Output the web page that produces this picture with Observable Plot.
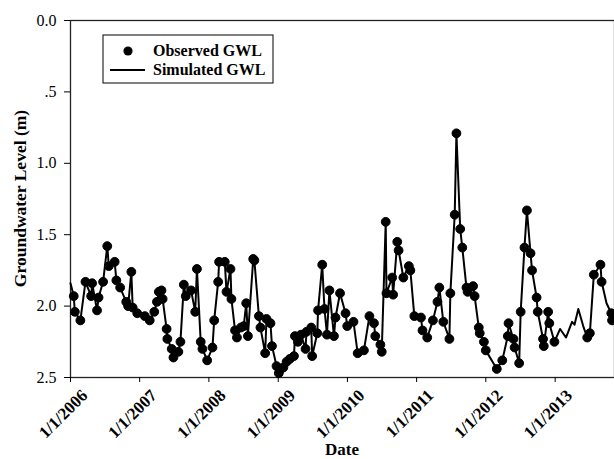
<!DOCTYPE html>
<html>
<head>
<meta charset="utf-8">
<script src="https://cdn.jsdelivr.net/npm/d3@7"></script>
<script src="https://cdn.jsdelivr.net/npm/@observablehq/plot@0.6"></script>
<style>
  html, body { margin: 0; padding: 0; background: #fff; }
  #chart svg { display: block; }
  #chart [aria-label="y-axis tick label"] text { font-size: 16px; }
  #chart [aria-label="x-axis tick label"] text { font-size: 17px; font-weight: bold; }
</style>
</head>
<body>
<div id="chart"></div>
<script>
// Observed groundwater level (m below surface) at each field measurement
const obsDates = [
  "2006-01-18","2006-01-24","2006-02-22","2006-03-21","2006-04-20","2006-04-25","2006-05-21","2006-05-29",
  "2006-06-22","2006-07-14","2006-07-22","2006-08-22","2006-08-31","2006-09-20","2006-10-22","2006-11-01",
  "2006-11-18","2006-11-25","2006-12-19","2007-01-28","2007-02-23","2007-03-19","2007-04-02","2007-04-12",
  "2007-04-26","2007-05-02","2007-05-23","2007-05-27","2007-06-19","2007-06-28","2007-07-24","2007-08-04",
  "2007-08-22","2007-09-01","2007-09-29","2007-10-21","2007-10-30","2007-11-19","2007-11-28","2007-12-23",
  "2008-01-20","2008-01-29","2008-02-19","2008-02-24","2008-03-25","2008-04-03","2008-04-24","2008-04-29",
  "2008-05-18","2008-05-28","2008-06-18","2008-07-03","2008-07-16","2008-07-25","2008-08-22","2008-08-28",
  "2008-09-21","2008-09-29","2008-10-24","2008-10-31","2008-11-21","2008-11-29","2008-12-23","2009-01-04",
  "2009-01-14","2009-01-28","2009-02-14","2009-03-03","2009-03-25","2009-03-30","2009-04-15","2009-05-01",
  "2009-05-25","2009-05-30","2009-06-24","2009-06-29","2009-07-26","2009-07-30","2009-08-21","2009-09-02",
  "2009-09-15","2009-09-28","2009-10-22","2009-10-30","2009-11-23","2009-12-22","2009-12-31","2010-02-02",
  "2010-02-24","2010-03-29","2010-04-27","2010-05-21","2010-05-28","2010-06-24","2010-07-01","2010-07-22",
  "2010-07-26","2010-08-25","2010-08-30","2010-09-21","2010-09-28","2010-10-23","2010-11-21","2010-11-29",
  "2010-12-20","2011-01-24","2011-02-01","2011-02-26","2011-03-28","2011-04-21","2011-05-01","2011-05-22",
  "2011-06-23","2011-06-28","2011-07-21","2011-07-30","2011-08-19","2011-08-30","2011-09-21","2011-09-27",
  "2011-10-26","2011-11-03","2011-11-25","2011-11-30","2011-12-22","2012-01-01","2012-02-28","2012-03-28",
  "2012-04-26","2012-04-30","2012-05-26","2012-06-01","2012-06-25","2012-07-03","2012-07-23","2012-08-05",
  "2012-08-24","2012-09-01","2012-09-25","2012-10-01","2012-10-29","2012-11-02","2012-11-25","2012-12-01",
  "2012-12-28","2013-06-19","2013-07-03","2013-07-24","2013-08-28","2013-09-03","2013-10-24","2013-10-28"
];
const obsLevels = [
  1.93,2.04,2.10,1.83,1.93,1.84,2.03,1.94,
  1.83,1.58,1.72,1.69,1.82,1.87,1.97,2.00,
  1.76,2.01,2.05,2.07,2.10,2.04,1.97,1.90,
  1.89,1.95,2.16,2.23,2.30,2.36,2.32,2.25,
  1.85,1.93,1.89,2.04,1.74,2.25,2.30,2.38,
  2.29,2.10,1.83,1.69,1.69,1.90,1.74,1.95,
  2.17,2.22,2.15,2.14,1.98,2.21,1.67,1.68,
  2.07,2.15,2.33,2.09,2.12,2.28,2.42,2.47,
  2.44,2.43,2.39,2.37,2.35,2.21,2.25,2.20,
  2.30,2.18,2.15,2.35,2.19,2.03,1.71,2.02,
  2.20,1.89,2.21,2.08,1.91,2.05,2.14,2.11,
  2.33,2.31,2.07,2.12,2.21,2.27,2.32,1.41,
  1.91,1.80,1.92,1.55,1.61,1.80,1.72,1.75,
  2.07,2.08,2.17,2.22,2.10,1.97,1.87,2.11,
  2.23,1.91,1.36,0.79,1.46,1.59,1.87,1.90,
  1.86,1.93,2.15,2.19,2.25,2.31,2.44,2.38,
  2.21,2.12,2.23,2.29,2.40,2.04,1.59,1.33,
  1.63,1.75,1.94,2.04,2.23,2.28,2.04,2.12,
  2.25,2.22,2.19,1.78,1.71,1.83,2.05,2.10
];

// Simulated level where no observation was taken
const simOnlyDates = [
  "2006-01-01","2013-01-27","2013-02-27","2013-03-31","2013-04-13","2013-05-03","2013-05-29","2013-09-29"
];
const simOnlyLevels = [1.84, 2.16, 2.22, 2.11, 2.13, 2.02, 2.14, 1.98];

// Axis ticks and labels
const xTickDates = ["2006-01-01","2007-01-01","2008-01-01","2009-01-01","2010-01-01","2011-01-01","2012-01-01","2013-01-01"];
const yTickValues = [0, 0.5, 1.0, 1.5, 2.0, 2.5];
const yTickLabels = ["0.0", ".5", "1.0", "1.5", "2.0", "2.5"];
const xDomain = ["2006-01-01", "2013-11-10"];
const legendLabels = ["Observed GWL", "Simulated GWL"];

const observed = obsDates.map((d, i) => ({date: new Date(d), level: obsLevels[i]}));
const simulated = observed
  .concat(simOnlyDates.map((d, i) => ({date: new Date(d), level: simOnlyLevels[i]})))
  .sort((a, b) => a.date - b.date);

const xTicks = xTickDates.map(d => new Date(d));
const fmtDate = d => `${d.getUTCMonth() + 1}/${d.getUTCDate()}/${d.getUTCFullYear()}`;
const serif = "'Liberation Serif', 'Times New Roman', serif";

const W = 614, H = 459;
const M = {top: 20, right: 0, bottom: 82, left: 70};

const chart = Plot.plot({
  width: W,
  height: H,
  marginTop: M.top,
  marginRight: M.right,
  marginBottom: M.bottom,
  marginLeft: M.left,
  style: {fontFamily: serif, fontSize: "16px", color: "black", background: "white"},
  x: {type: "utc", domain: xDomain.map(d => new Date(d))},
  y: {domain: [0, 2.5], reverse: true},
  marks: [
    Plot.frame({stroke: "#222", strokeWidth: 1.3}),
    Plot.axisY({
      ticks: yTickValues,
      tickFormat: (d) => yTickLabels[yTickValues.indexOf(d)],
      tickSize: 6,
      tickPadding: 8,
      fontSize: 16,
      label: null
    }),
    // tick marks on the date axis
    Plot.axisX({
      ticks: xTicks,
      tickFormat: () => "",
      tickSize: 5,
      label: null
    }),
    // slanted date labels, set off to the right of each tick
    Plot.axisX({
      ticks: xTicks,
      tickFormat: fmtDate,
      tickSize: 0,
      tickRotate: -45,
      tickPadding: 19,
      textAnchor: "end",
      lineAnchor: "bottom",
      dx: 18,
      fontSize: 17,
      fontWeight: "bold",
      label: null
    }),
    Plot.line(simulated, {x: "date", y: "level", stroke: "black", strokeWidth: 2}),
    Plot.dot(observed, {x: "date", y: "level", r: 4.4, fill: "black", stroke: "black", strokeWidth: 1})
  ]
});

document.getElementById("chart").append(chart);

// Axis titles and the inset legend
const svg = d3.select(chart);
svg.append("text")
  .attr("x", (M.left + W - M.right) / 2)
  .attr("y", 455)
  .attr("text-anchor", "middle")
  .attr("font-family", serif)
  .attr("font-weight", "bold")
  .attr("font-size", 17)
  .text("Date");

svg.append("text")
  .attr("transform", `translate(26,${(M.top + H - M.bottom) / 2}) rotate(-90)`)
  .attr("text-anchor", "middle")
  .attr("font-family", serif)
  .attr("font-weight", "bold")
  .attr("font-size", 17.5)
  .text("Groundwater Level (m)");

const lg = svg.append("g").attr("transform", "translate(103,35)");
lg.append("rect")
  .attr("width", 170).attr("height", 48)
  .attr("fill", "white").attr("stroke", "black").attr("stroke-width", 1);
lg.append("circle").attr("cx", 25).attr("cy", 16).attr("r", 4.6).attr("fill", "black");
lg.append("line").attr("x1", 7).attr("x2", 42).attr("y1", 35).attr("y2", 35)
  .attr("stroke", "black").attr("stroke-width", 2);
legendLabels.forEach((t, i) => {
  lg.append("text")
    .attr("x", 50).attr("y", 21 + i * 19)
    .attr("text-anchor", "start")
    .attr("font-family", serif)
    .attr("font-weight", "bold")
    .attr("font-size", 16)
    .text(t);
});
</script>
</body>
</html>
